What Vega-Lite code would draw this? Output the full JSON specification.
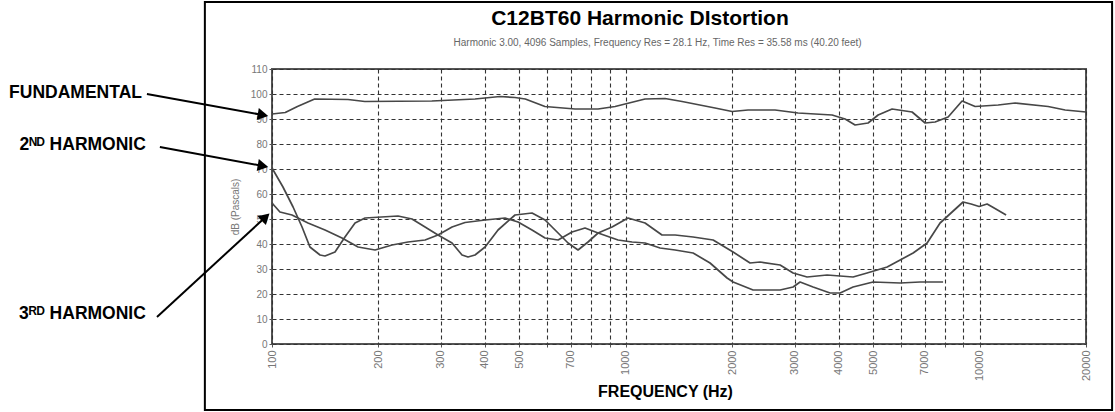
{
  "$schema": "https://vega.github.io/schema/vega-lite/v6.json",
  "width": 814,
  "height": 275,
  "autosize": {"type": "none"},
  "padding": {"left": 272, "top": 69, "right": 29, "bottom": 68},
  "background": "white",
  "config": {
    "view": {"stroke": "#555", "strokeWidth": 2},
    "font": "Liberation Sans"
  },
  "resolve": {"axis": {"x": "independent", "y": "independent"}},
  "datasets": {
    "curves": [
      {"series": "Fundamental", "f": 100, "db": 92},
      {"series": "Fundamental", "f": 109, "db": 92.6},
      {"series": "Fundamental", "f": 118, "db": 95},
      {"series": "Fundamental", "f": 132, "db": 98},
      {"series": "Fundamental", "f": 164, "db": 97.8},
      {"series": "Fundamental", "f": 183, "db": 97},
      {"series": "Fundamental", "f": 283, "db": 97.2},
      {"series": "Fundamental", "f": 375, "db": 98},
      {"series": "Fundamental", "f": 441, "db": 99},
      {"series": "Fundamental", "f": 486, "db": 98.6},
      {"series": "Fundamental", "f": 520, "db": 98},
      {"series": "Fundamental", "f": 591, "db": 95},
      {"series": "Fundamental", "f": 719, "db": 94},
      {"series": "Fundamental", "f": 835, "db": 94},
      {"series": "Fundamental", "f": 933, "db": 95},
      {"series": "Fundamental", "f": 1134, "db": 98},
      {"series": "Fundamental", "f": 1291, "db": 98.2},
      {"series": "Fundamental", "f": 1443, "db": 97},
      {"series": "Fundamental", "f": 1788, "db": 94.4},
      {"series": "Fundamental", "f": 1998, "db": 93},
      {"series": "Fundamental", "f": 2217, "db": 93.6},
      {"series": "Fundamental", "f": 2643, "db": 93.6},
      {"series": "Fundamental", "f": 3070, "db": 92.4},
      {"series": "Fundamental", "f": 3831, "db": 91.6},
      {"series": "Fundamental", "f": 4169, "db": 90},
      {"series": "Fundamental", "f": 4449, "db": 87.6},
      {"series": "Fundamental", "f": 4842, "db": 88.4},
      {"series": "Fundamental", "f": 5169, "db": 91.6},
      {"series": "Fundamental", "f": 5660, "db": 94},
      {"series": "Fundamental", "f": 6448, "db": 92.8},
      {"series": "Fundamental", "f": 7019, "db": 88.4},
      {"series": "Fundamental", "f": 7489, "db": 88.8},
      {"series": "Fundamental", "f": 8152, "db": 90.8},
      {"series": "Fundamental", "f": 8928, "db": 97.2},
      {"series": "Fundamental", "f": 9719, "db": 95},
      {"series": "Fundamental", "f": 11290, "db": 95.6},
      {"series": "Fundamental", "f": 12612, "db": 96.4},
      {"series": "Fundamental", "f": 15631, "db": 95},
      {"series": "Fundamental", "f": 17462, "db": 93.6},
      {"series": "Fundamental", "f": 20000, "db": 92.8},

      {"series": "2nd", "f": 100, "db": 70.4},
      {"series": "2nd", "f": 107.4, "db": 62.8},
      {"series": "2nd", "f": 114.7, "db": 54.8},
      {"series": "2nd", "f": 121.6, "db": 46.8},
      {"series": "2nd", "f": 128, "db": 38.8},
      {"series": "2nd", "f": 136.7, "db": 35.6},
      {"series": "2nd", "f": 141.2, "db": 35.2},
      {"series": "2nd", "f": 150.7, "db": 36.8},
      {"series": "2nd", "f": 160.8, "db": 42.8},
      {"series": "2nd", "f": 171.7, "db": 48.4},
      {"series": "2nd", "f": 183.2, "db": 50.4},
      {"series": "2nd", "f": 227.1, "db": 51.2},
      {"series": "2nd", "f": 248.8, "db": 50},
      {"series": "2nd", "f": 270.8, "db": 46.8},
      {"series": "2nd", "f": 294.6, "db": 43.6},
      {"series": "2nd", "f": 322.8, "db": 40.4},
      {"series": "2nd", "f": 344.5, "db": 35.6},
      {"series": "2nd", "f": 358.2, "db": 34.8},
      {"series": "2nd", "f": 374.9, "db": 35.6},
      {"series": "2nd", "f": 400.3, "db": 38.8},
      {"series": "2nd", "f": 435.5, "db": 45.6},
      {"series": "2nd", "f": 486.4, "db": 51.6},
      {"series": "2nd", "f": 543.3, "db": 52.4},
      {"series": "2nd", "f": 591.4, "db": 49.6},
      {"series": "2nd", "f": 643.8, "db": 44.4},
      {"series": "2nd", "f": 686.9, "db": 40.4},
      {"series": "2nd", "f": 733, "db": 37.6},
      {"series": "2nd", "f": 782.3, "db": 40.8},
      {"series": "2nd", "f": 835.2, "db": 44.4},
      {"series": "2nd", "f": 914.7, "db": 46.8},
      {"series": "2nd", "f": 1015, "db": 50.4},
      {"series": "2nd", "f": 1134, "db": 48.4},
      {"series": "2nd", "f": 1266, "db": 43.6},
      {"series": "2nd", "f": 1379, "db": 43.6},
      {"series": "2nd", "f": 1550, "db": 42.8},
      {"series": "2nd", "f": 1766, "db": 41.6},
      {"series": "2nd", "f": 2011, "db": 36.8},
      {"series": "2nd", "f": 2246, "db": 32.4},
      {"series": "2nd", "f": 2397, "db": 32.8},
      {"series": "2nd", "f": 2731, "db": 31.6},
      {"series": "2nd", "f": 2972, "db": 28.4},
      {"series": "2nd", "f": 3255, "db": 26.8},
      {"series": "2nd", "f": 3708, "db": 27.6},
      {"series": "2nd", "f": 4391, "db": 26.8},
      {"series": "2nd", "f": 4811, "db": 28.4},
      {"series": "2nd", "f": 5482, "db": 30.8},
      {"series": "2nd", "f": 6492, "db": 36.4},
      {"series": "2nd", "f": 7111, "db": 40.4},
      {"series": "2nd", "f": 7737, "db": 48.4},
      {"series": "2nd", "f": 8366, "db": 52.8},
      {"series": "2nd", "f": 8987, "db": 56.8},
      {"series": "2nd", "f": 9467, "db": 56},
      {"series": "2nd", "f": 9974, "db": 55},
      {"series": "2nd", "f": 10508, "db": 56},
      {"series": "2nd", "f": 10999, "db": 54.4},
      {"series": "2nd", "f": 11890, "db": 51.6},

      {"series": "3rd", "f": 100, "db": 56.4},
      {"series": "3rd", "f": 105.3, "db": 52.8},
      {"series": "3rd", "f": 113.9, "db": 51.6},
      {"series": "3rd", "f": 126.4, "db": 48.4},
      {"series": "3rd", "f": 141.2, "db": 45.6},
      {"series": "3rd", "f": 157.7, "db": 42.4},
      {"series": "3rd", "f": 175.1, "db": 38.8},
      {"series": "3rd", "f": 195.6, "db": 37.6},
      {"series": "3rd", "f": 218.5, "db": 39.6},
      {"series": "3rd", "f": 242.4, "db": 40.8},
      {"series": "3rd", "f": 270.8, "db": 41.6},
      {"series": "3rd", "f": 294.6, "db": 43.6},
      {"series": "3rd", "f": 322.8, "db": 46.8},
      {"series": "3rd", "f": 351.3, "db": 48.6},
      {"series": "3rd", "f": 400.3, "db": 49.6},
      {"series": "3rd", "f": 455.7, "db": 50.4},
      {"series": "3rd", "f": 496, "db": 48.8},
      {"series": "3rd", "f": 543.3, "db": 45.6},
      {"series": "3rd", "f": 591.4, "db": 42.4},
      {"series": "3rd", "f": 643.8, "db": 41.6},
      {"series": "3rd", "f": 704.9, "db": 44.8},
      {"series": "3rd", "f": 767.2, "db": 46.4},
      {"series": "3rd", "f": 835.2, "db": 44.4},
      {"series": "3rd", "f": 951.1, "db": 41.6},
      {"series": "3rd", "f": 1042, "db": 40.8},
      {"series": "3rd", "f": 1134, "db": 40.4},
      {"series": "3rd", "f": 1250, "db": 38.4},
      {"series": "3rd", "f": 1379, "db": 37.6},
      {"series": "3rd", "f": 1550, "db": 36.4},
      {"series": "3rd", "f": 1731, "db": 32.4},
      {"series": "3rd", "f": 1934, "db": 26.4},
      {"series": "3rd", "f": 2011, "db": 24.8},
      {"series": "3rd", "f": 2291, "db": 21.6},
      {"series": "3rd", "f": 2731, "db": 21.6},
      {"series": "3rd", "f": 2972, "db": 22.8},
      {"series": "3rd", "f": 3110, "db": 24.8},
      {"series": "3rd", "f": 3385, "db": 22.8},
      {"series": "3rd", "f": 3781, "db": 20.4},
      {"series": "3rd", "f": 4036, "db": 20.4},
      {"series": "3rd", "f": 4391, "db": 22.8},
      {"series": "3rd", "f": 5003, "db": 24.8},
      {"series": "3rd", "f": 5965, "db": 24.4},
      {"series": "3rd", "f": 6795, "db": 24.8},
      {"series": "3rd", "f": 7891, "db": 24.8}
    ],
    "notes": [
      {"name": "FUNDAMENTAL", "text": "FUNDAMENTAL", "lf": 42.9, "ldb": 100.4, "sf": 44.3, "sdb": 100, "hf": 94.3, "hdb": 91.6},
      {"name": "2ND", "text": "2ᴺᴰ HARMONIC", "lf": 44, "ldb": 79.6, "sf": 48.2, "sdb": 78.8, "hf": 94.3, "hdb": 71.2},
      {"name": "3RD", "text": "3ᴿᴰ HARMONIC", "lf": 44, "ldb": 12, "sf": 47.3, "sdb": 10.8, "hf": 95.9, "hdb": 50.8}
    ],
    "heading": [
      {"text": "C12BT60 Harmonic DIstortion", "f": 1097, "db": 130}
    ],
    "subheading": [
      {"text": "Harmonic 3.00, 4096 Samples, Frequency Res = 28.1 Hz, Time Res = 35.58 ms (40.20 feet)", "f": 1230, "db": 120.6}
    ],
    "frame": [
      {"f1": 64.6, "f2": 23700, "d1": 136.8, "d2": -26.4}
    ]
  },
  "layer": [
    {
      "data": {"name": "curves"},
      "mark": {"type": "line", "color": "#474747", "strokeWidth": 1.7, "strokeJoin": "round"},
      "encoding": {
        "x": {
          "field": "f", "type": "quantitative",
          "scale": {"type": "log", "domain": [100, 20000], "nice": false},
          "axis": {
            "orient": "bottom",
            "values": [100, 200, 300, 400, 500, 600, 700, 800, 900, 1000, 2000, 3000, 4000, 5000, 6000, 7000, 8000, 9000, 10000, 20000],
            "format": "d",
            "labelExpr": "(datum.value == 600 || datum.value == 800 || datum.value == 900 || datum.value == 6000 || datum.value == 8000 || datum.value == 9000) ? '' : datum.label",
            "labelAngle": -90,
            "labelFont": "Liberation Sans",
            "labelFontSize": 11,
            "labelColor": "#777",
            "labelPadding": 3,
            "labelOverlap": false,
            "labelFlush": false,
            "tickSize": 3,
            "tickColor": "#555",
            "domain": false,
            "grid": true,
            "gridDash": [4, 3],
            "gridColor": "#333",
            "gridWidth": 1.1,
            "title": "FREQUENCY (Hz)",
            "titleFont": "Liberation Sans",
            "titleFontSize": 16,
            "titleFontWeight": "bold",
            "titleColor": "black",
            "titleX": 393,
            "titleY": 47,
            "titleBaseline": "middle"
          }
        },
        "y": {
          "field": "db", "type": "quantitative",
          "scale": {"domain": [0, 110], "nice": false, "zero": false},
          "axis": {
            "orient": "left",
            "values": [0, 10, 20, 30, 40, 50, 60, 70, 80, 90, 100, 110],
            "labelFont": "Liberation Sans",
            "labelFontSize": 10,
            "labelColor": "#777",
            "labelPadding": 2,
            "labelOverlap": false,
            "labelFlush": false,
            "tickSize": 3,
            "tickColor": "#555",
            "domain": false,
            "grid": true,
            "gridDash": [4, 3],
            "gridColor": "#333",
            "gridWidth": 1.1,
            "title": "dB (Pascals)",
            "titleFont": "Liberation Sans",
            "titleFontSize": 10,
            "titleFontWeight": "normal",
            "titleColor": "#777",
            "titlePadding": 10
          }
        },
        "detail": {"field": "series", "type": "nominal"}
      }
    },
    {
      "data": {"name": "frame"},
      "mark": {"type": "rect", "fill": "transparent", "stroke": "black", "strokeWidth": 2},
      "encoding": {
        "x": {"field": "f1", "type": "quantitative", "axis": null},
        "x2": {"field": "f2"},
        "y": {"field": "d1", "type": "quantitative", "axis": null},
        "y2": {"field": "d2"}
      }
    },
    {
      "data": {"name": "heading"},
      "mark": {"type": "text", "align": "center", "baseline": "middle", "font": "Liberation Sans", "fontSize": 21, "fontWeight": "bold", "color": "black"},
      "encoding": {
        "x": {"field": "f", "type": "quantitative", "axis": null},
        "y": {"field": "db", "type": "quantitative", "axis": null},
        "text": {"field": "text"}
      }
    },
    {
      "data": {"name": "subheading"},
      "mark": {"type": "text", "align": "center", "baseline": "middle", "font": "Liberation Sans", "fontSize": 10, "color": "#666"},
      "encoding": {
        "x": {"field": "f", "type": "quantitative", "axis": null},
        "y": {"field": "db", "type": "quantitative", "axis": null},
        "text": {"field": "text"}
      }
    },
    {
      "data": {"name": "notes"},
      "mark": {"type": "text", "align": "right", "baseline": "middle", "font": "Liberation Sans", "fontSize": 17.5, "fontWeight": "bold", "color": "black"},
      "encoding": {
        "x": {"field": "lf", "type": "quantitative", "axis": null},
        "y": {"field": "ldb", "type": "quantitative", "axis": null},
        "text": {"field": "text"}
      }
    },
    {
      "data": {"name": "notes"},
      "mark": {"type": "rule", "color": "black", "strokeWidth": 2},
      "encoding": {
        "x": {"field": "sf", "type": "quantitative", "axis": null},
        "x2": {"field": "hf"},
        "y": {"field": "sdb", "type": "quantitative", "axis": null},
        "y2": {"field": "hdb"}
      }
    },
    {
      "data": {"name": "notes"},
      "transform": [{"filter": "datum.name != '3RD'"}],
      "mark": {"type": "point", "shape": "triangle-right", "filled": true, "color": "black", "size": 150, "angle": 10, "opacity": 1},
      "encoding": {
        "x": {"field": "hf", "type": "quantitative", "axis": null},
        "y": {"field": "hdb", "type": "quantitative", "axis": null}
      }
    },
    {
      "data": {"name": "notes"},
      "transform": [{"filter": "datum.name == '3RD'"}],
      "mark": {"type": "point", "shape": "triangle-right", "filled": true, "color": "black", "size": 150, "angle": 317, "opacity": 1},
      "encoding": {
        "x": {"field": "hf", "type": "quantitative", "axis": null},
        "y": {"field": "hdb", "type": "quantitative", "axis": null}
      }
    }
  ]
}
